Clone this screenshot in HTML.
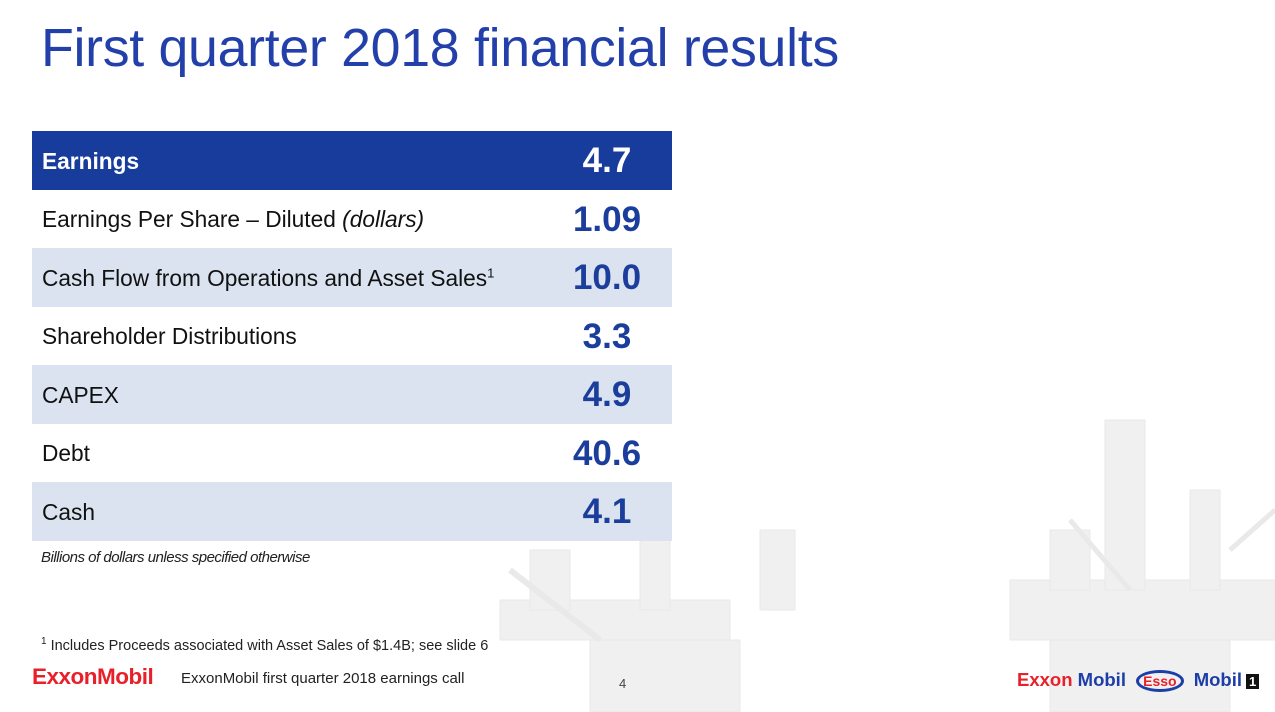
<!DOCTYPE html>
<html><head><meta charset="utf-8"><style>
body{margin:0;width:1275px;height:712px;overflow:hidden;background:#fff;font-family:"Liberation Sans",sans-serif;position:relative}
.abs{position:absolute}
#title{left:41px;top:17px;font-size:53.7px;color:#2340aa;font-weight:300;letter-spacing:-0.3px;white-space:nowrap}
table{position:absolute;left:32px;top:131px;width:640px;border-collapse:collapse}
td{padding:2px 0 0 10px;height:56.5px;font-size:22.7px;color:#111}
td.v{text-align:center;width:130px;font-size:35px;font-weight:bold;color:#1b3d9c;padding:2px 0 0 0}
tr.h td{background:#173c9c;color:#fff;font-weight:bold}
tr.h td.v{color:#fff}
tr.s td{background:#dae3ef}
</style></head><body>
<svg class="abs" style="left:490px;top:400px" width="785" height="312">
<g fill="#f0f0f0" stroke="#e9e9e9">
<rect x="10" y="200" width="230" height="40"/>
<rect x="40" y="150" width="40" height="60"/>
<rect x="150" y="120" width="30" height="90"/>
<rect x="270" y="130" width="35" height="80"/>
<rect x="520" y="180" width="265" height="60"/>
<rect x="615" y="20" width="40" height="170"/>
<rect x="700" y="90" width="30" height="100"/>
<rect x="560" y="130" width="40" height="60"/>
<rect x="100" y="240" width="150" height="72"/>
<rect x="560" y="240" width="180" height="72"/>
<line x1="20" y1="170" x2="110" y2="240" stroke-width="6"/>
<line x1="580" y1="120" x2="640" y2="190" stroke-width="5"/>
<line x1="740" y1="150" x2="785" y2="110" stroke-width="5"/>
</g></svg>
<div id="title" class="abs">First quarter 2018 financial results</div>
<table>
<tr class="h"><td>Earnings</td><td class="v">4.7</td></tr>
<tr><td>Earnings Per Share – Diluted <i>(dollars)</i></td><td class="v">1.09</td></tr>
<tr class="s"><td>Cash Flow from Operations and Asset Sales<sup style="font-size:13px">1</sup></td><td class="v">10.0</td></tr>
<tr><td>Shareholder Distributions</td><td class="v">3.3</td></tr>
<tr class="s"><td>CAPEX</td><td class="v">4.9</td></tr>
<tr><td>Debt</td><td class="v">40.6</td></tr>
<tr class="s"><td>Cash</td><td class="v">4.1</td></tr>
</table>
<div class="abs" style="left:41px;top:549px;font-size:15px;font-style:italic;color:#222;letter-spacing:-0.5px">Billions of dollars unless specified otherwise</div>
<div class="abs" style="left:41px;top:636px;font-size:14.5px;color:#222"><sup style="font-size:10px">1</sup> Includes Proceeds associated with Asset Sales of $1.4B; see slide 6</div>
<div class="abs" style="left:32px;top:664px;font-size:22.5px;font-weight:bold;color:#e8202a;letter-spacing:-0.5px">ExxonMobil</div>
<div class="abs" style="left:181px;top:670px;font-size:15px;color:#222">ExxonMobil first quarter 2018 earnings call</div>
<div class="abs" style="left:619px;top:676px;font-size:13px;color:#444">4</div>
<div class="abs" style="left:1017px;top:669px;font-size:18.5px;font-weight:bold;white-space:nowrap">
<span style="color:#e8202a">Exxon</span> <span style="color:#1d3ea8">Mobil</span>
<span style="display:inline-block;border:3px solid #1d3ea8;border-radius:50%;padding:0 4px;color:#e8202a;font-size:14px;margin:0 5px">Esso</span>
<span style="color:#1d3ea8">Mobil</span><span style="background:#111;color:#fff;font-size:13px;padding:0 3px;margin-left:4px">1</span></div>
</body></html>
